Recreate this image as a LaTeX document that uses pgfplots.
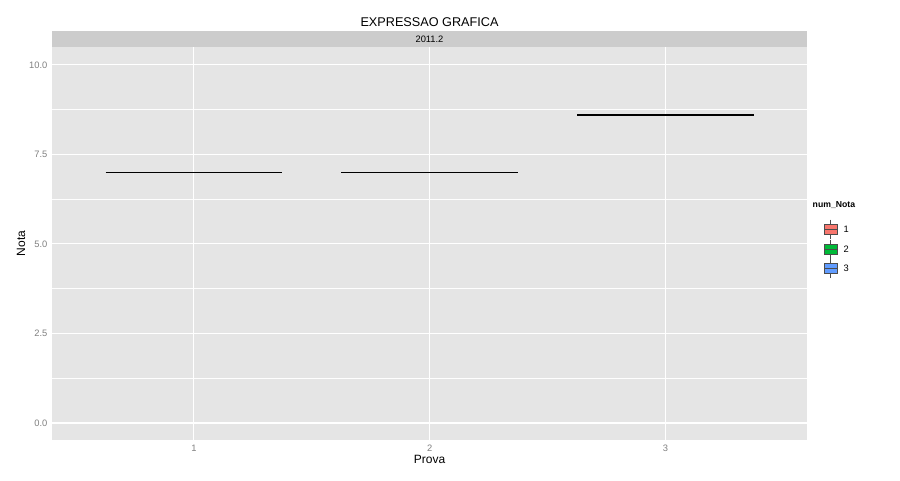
\documentclass[border=0pt]{standalone}
\usepackage{pgfplots}
\pgfplotsset{compat=1.18}
\usepackage{fontspec}
\setmainfont{Liberation Sans}
\definecolor{panel}{HTML}{E5E5E5}
\definecolor{strip}{HTML}{CCCCCC}
\definecolor{tick}{HTML}{7F7F7F}
\definecolor{cA}{HTML}{F8766D}
\definecolor{cB}{HTML}{00BA38}
\definecolor{cC}{HTML}{619CFF}
\begin{document}
\begin{tikzpicture}[x=0.75pt,y=0.75pt]
\useasboundingbox (0,0) rectangle (900,480);
\begin{axis}[at={(52*0.75pt,40*0.75pt)},anchor=south west,
 scale only axis, width=566.25pt, height=294.75pt,
 xmin=0.398, xmax=3.6, ymin=-0.475, ymax=10.5,
 axis background/.style={fill=panel}, axis line style={draw=none},
 xtick={1,2,3}, ytick={0,2.5,5,7.5,10},
 yticklabels={0.0,2.5,5.0,7.5,10.0},
 minor ytick={1.25,3.75,6.25,8.75},
 grid=both, major grid style={white,line width=0.8pt}, minor grid style={white!96!panel,line width=0.4pt},
 tick style={draw=none},
 ticklabel style={font=\fontsize{7}{8}\selectfont,text=tick},
 /pgf/number format/assume math mode=true,
 xlabel={Prova}, ylabel={Nota},
 label style={font=\fontsize{9}{10}\selectfont},
 xlabel style={yshift=4pt}, ylabel style={yshift=-4pt},
 clip=false]
\addplot[black,line width=1.1pt] coordinates {(0.625,7) (1.375,7)};
\addplot[black,line width=1.1pt] coordinates {(1.625,7) (2.375,7)};
\addplot[black,line width=1.1pt] coordinates {(2.625,8.6) (3.375,8.6)};
\end{axis}
\fill[strip] (52,449) rectangle (807,433);
\node[font=\fontsize{7}{8}\selectfont] at (429.5,441) {2011.2};
\node[font=\fontsize{9.5}{10}\selectfont] at (429.5,458) {EXPRESSAO GRAFICA};
\node[anchor=west,font=\bfseries\fontsize{6.5}{7}\selectfont] at (808,275) {num\_Nota};
\foreach \c/\y/\l in {cA/251/1,cB/231/2,cC/212/3}{
 \draw[black!70] (830.5,\y+9.5) -- (830.5,\y-9.5);
 \draw[black!70,fill=\c] (824,\y-5) rectangle (837,\y+5);
 \draw[black!70] (824,\y) -- (837,\y);
 \node[anchor=west,font=\fontsize{7}{8}\selectfont] at (839,\y) {\l};
}
\end{tikzpicture}
\end{document}
